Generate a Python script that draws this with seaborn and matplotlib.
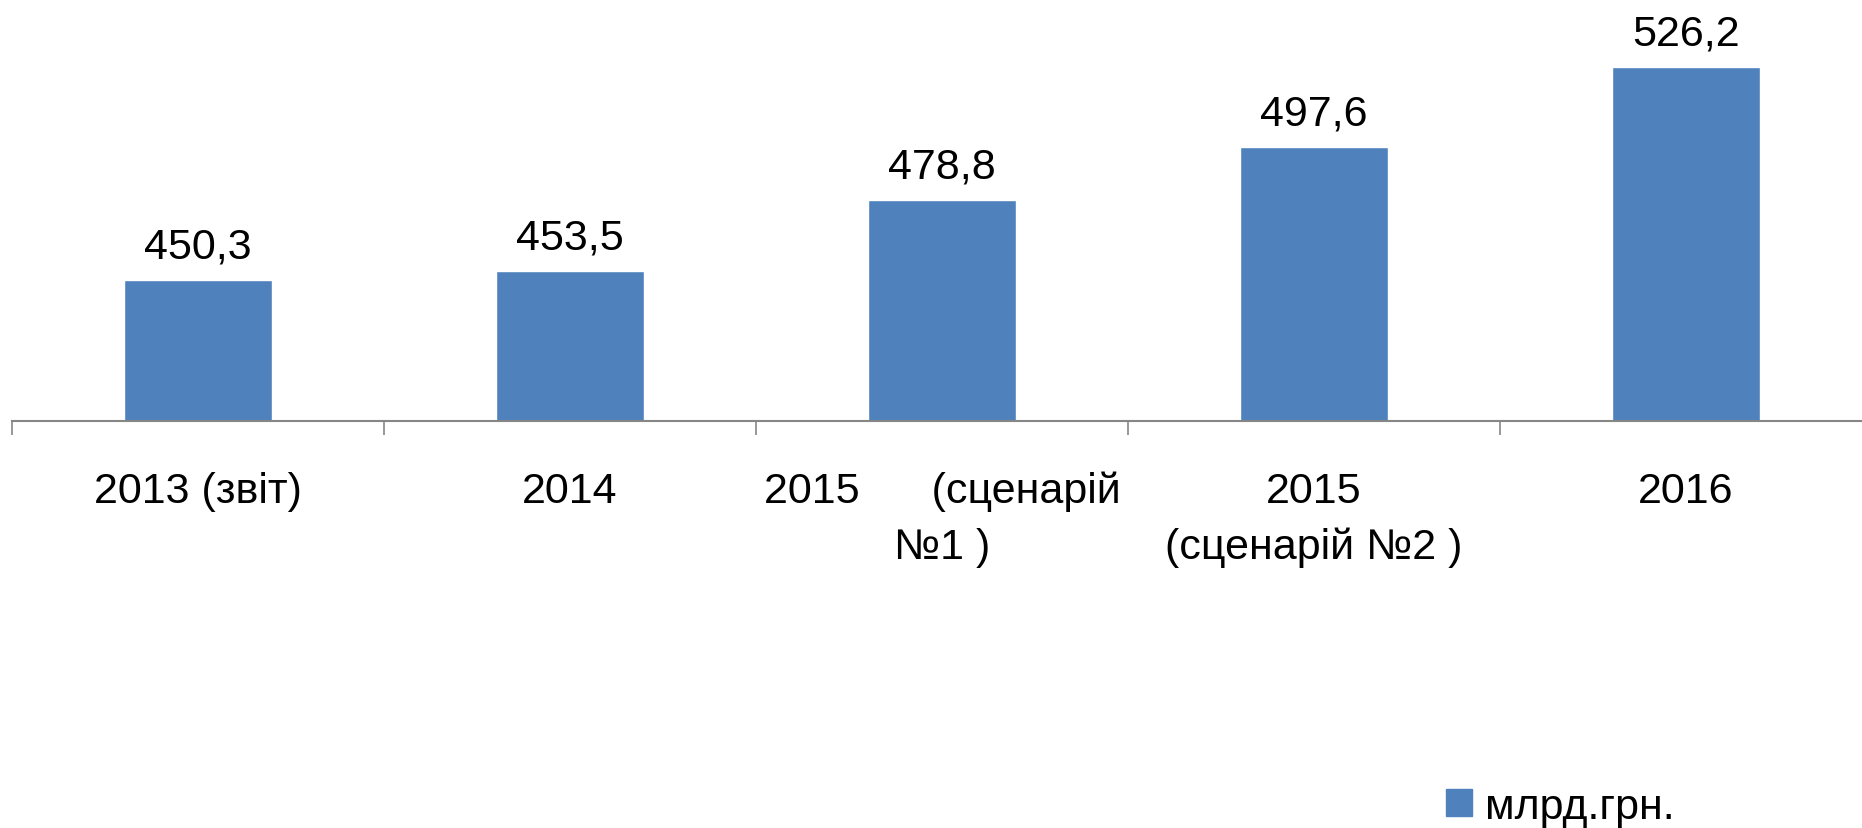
import matplotlib
matplotlib.use("Agg")
import matplotlib.pyplot as plt
import seaborn as sns
import pandas as pd
from matplotlib.patches import Patch

categories = ["2013 (звіт)", "2014", "2015      (сценарій\n№1 )", "2015\n(сценарій №2 )", "2016"]
values = [450.3, 453.5, 478.8, 497.6, 526.2]
series_name = "млрд.грн."

sns.set_theme(style="white")
plt.rcParams["font.family"] = ["Liberation Sans", "DejaVu Sans"]

BAR = "#4F81BD"
FS = 31

df = pd.DataFrame({"cat": categories, "val": values})

fig = plt.figure(figsize=(18.62, 8.29), dpi=100)
ax = fig.add_axes([12 / 1862, 1 - 422 / 829, 1 - 12 / 1862, 422 / 829])

sns.barplot(data=df, x="cat", y="val", color=BAR, saturation=1, width=0.40, ax=ax)

ax.set_ylim(400, 550.5)
ax.set_xlim(-0.5, -0.5 + 1850 / 372)

ax.bar_label(ax.containers[0], labels=[f"{v:.1f}".replace(".", ",") for v in values],
             padding=10, fontsize=FS, color="black")

for s in ["left", "top", "right"]:
    ax.spines[s].set_visible(False)
ax.spines["bottom"].set_color("#868686")
ax.spines["bottom"].set_linewidth(1.5)

ax.set_yticks([])
ax.set_xlabel("")
ax.set_ylabel("")
ax.set_xticks(range(len(categories)))
ax.set_xticklabels(categories, fontsize=FS, linespacing=1.5, color="black")
ax.tick_params(axis="x", which="major", length=0, pad=36)
ax.set_xticks([i - 0.5 for i in range(len(categories))], minor=True)
ax.tick_params(axis="x", which="minor", length=10, width=1.2, color="#868686", bottom=True)

handles = [Patch(facecolor=BAR, edgecolor=BAR, label=series_name)]
leg = fig.legend(handles=handles, loc="center left", bbox_to_anchor=(1446 / 1862, 1 - 808 / 829),
                 frameon=False, fontsize=FS, handlelength=0.6, handleheight=0.6, handletextpad=0.3,
                 borderpad=0, borderaxespad=0)
for t in leg.get_texts():
    t.set_color("black")

fig.savefig("out.png", dpi=100)
